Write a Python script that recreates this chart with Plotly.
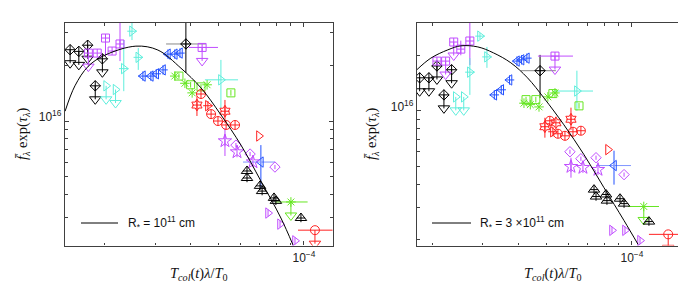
import plotly.graph_objects as go

# ======================= LEFT PANEL (R* = 1e11 cm) =======================
L_curve_x = [1.45e-5, 1.57e-5, 1.75e-5, 2.0e-5, 2.57e-5, 3.07e-5, 3.70e-5, 4.35e-5, 5.11e-5, 6.01e-5, 7.06e-5, 8.30e-5, 9.15e-5]
L_curve_y = [1.13e16, 1.55e16, 1.98e16, 2.27e16, 2.54e16, 2.42e16, 1.93e16, 1.51e16, 1.08e16, 0.741e16, 0.474e16, 0.299e16, 0.214e16]

L_kd_lim_x = [1.51e-5, 1.62e-5, 1.74e-5, 1.96e-5, 1.85e-5]
L_kd_lim_y = [2.43e16, 2.38e16, 2.57e16, 2.17e16, 1.55e16]
L_kd_x = [3.85e-5]; L_kd_y = [2.61e16]
L_kd_xlo = [3.28e-5]; L_kd_xhi = [4.53e-5]; L_kd_ylo = [1.82e16]; L_kd_yhi = [3.6e16]

L_vs_x = [1.88e-5, 2.01e-5, 2.12e-5, 2.26e-5]
L_vs_y = [2.33e16, 2.81e16, 2.39e16, 2.61e16]
L_vs_ylo = [2.33e16, 2.25e16, 2.39e16, 2.11e16]
L_vs_yhi = [2.33e16, 2.85e16, 2.39e16, 3.6e16]
L_vs_lim_x = [1.75e-5, 4.39e-5]; L_vs_lim_y = [2.33e16, 2.50e16]
L_vs_lim_xlo = [1.75e-5, 3.94e-5]; L_vs_lim_xhi = [1.75e-5, 4.99e-5]

L_ct_x = [2.49e-5, 2.62e-5, 2.33e-5]; L_ct_y = [3.06e16, 2.21e16, 1.92e16]
L_ct_ylo = [2.74e16, 1.89e16, 1.45e16]; L_ct_yhi = [3.6e16, 2.48e16, 2.74e16]
L_ct_lim_x = [2.02e-5, 2.18e-5]; L_ct_lim_y = [1.55e16, 1.48e16]
L_ctb_x = [5.11e-5]; L_ctb_y = [1.67e16]
L_ctb_xlo = [4.49e-5]; L_ctb_xhi = [5.87e-5]; L_ctb_ylo = [1.175e16]; L_ctb_yhi = [2.14e16]

L_bt_x = [3.33e-5, 3.52e-5, 3.67e-5, 2.72e-5, 2.90e-5, 3.03e-5, 3.20e-5]
L_bt_y = [2.30e16, 2.30e16, 2.33e16, 1.75e16, 1.75e16, 1.80e16, 1.89e16]
L_btb_x = [7.06e-5]; L_btb_y = [0.60e16]
L_btb_xlo = [6.11e-5]; L_btb_xhi = [7.91e-5]; L_btb_ylo = [0.434e16]; L_btb_yhi = [0.741e16]

L_ga_x = [3.52e-5, 3.82e-5, 4.05e-5, 4.57e-5]; L_ga_y = [1.75e16, 1.60e16, 1.42e16, 1.57e16]
L_gs_x = [3.64e-5, 4.0e-5, 4.35e-5, 5.54e-5]; L_gs_y = [1.75e16, 1.57e16, 1.53e16, 1.42e16]
L_ga_lim_x = [9.0e-5]; L_ga_lim_y = [0.365e16]; L_ga_lim_xlo = [7.91e-5]; L_ga_lim_xhi = [1.03e-4]

L_rh_x = [4.21e-5, 5.28e-5]; L_rh_y = [1.22e16, 1.13e16]
L_rh_ylo = [1.065e16, 0.975e16]; L_rh_yhi = [1.36e16, 1.30e16]
L_rc_x = [4.35e-5, 4.72e-5, 4.99e-5, 5.33e-5, 5.73e-5]; L_rc_y = [1.40e16, 1.09e16, 1.00e16, 0.952e16, 0.952e16]
L_rt_x = [4.60e-5]; L_rt_y = [1.21e16]
L_rto_x = [6.95e-5]; L_rto_y = [0.83e16]
L_rc_lim_x = [1.093e-4]; L_rc_lim_y = [0.257e16]; L_rc_lim_xlo = [9.53e-5]; L_rc_lim_xhi = [1.26e-4]

L_vd_x = [5.77e-5, 6.47e-5, 7.91e-5]; L_vd_y = [0.741e16, 0.663e16, 0.564e16]
L_vp_x = [5.28e-5, 5.82e-5, 6.62e-5]; L_vp_y = [0.78e16, 0.68e16, 0.60e16]
L_vp_ylo = [0.647e16, 0.68e16, 0.60e16]; L_vp_yhi = [0.917e16, 0.68e16, 0.60e16]
L_vt_x = [7.48e-5, 8.24e-5, 9.30e-5]; L_vt_y = [0.318e16, 0.277e16, 0.225e16]
L_kt_x = [6.31e-5, 6.31e-5, 7.01e-5, 7.13e-5, 7.85e-5, 7.97e-5, 9.76e-5]
L_kt_y = [0.537e16, 0.492e16, 0.446e16, 0.418e16, 0.384e16, 0.370e16, 0.299e16]

# ======================= RIGHT PANEL (R* = 3e11 cm) =======================
R_curve_x = [1.76e-5, 1.97e-5, 2.26e-5, 2.51e-5, 2.88e-5, 3.27e-5, 3.76e-5, 4.30e-5, 4.91e-5, 5.77e-5, 6.79e-5, 7.97e-5, 9.38e-5, 1.05e-4]
R_curve_y = [1.67e16, 1.93e16, 2.14e16, 2.25e16, 2.22e16, 2.06e16, 1.82e16, 1.51e16, 1.175e16, 0.84e16, 0.578e16, 0.384e16, 0.254e16, 0.189e16]

R_kd_lim_x = [1.80e-5, 1.94e-5, 2.07e-5, 2.33e-5, 2.19e-5]
R_kd_lim_y = [1.51e16, 1.51e16, 1.75e16, 1.67e16, 1.22e16]
R_kd_x = [4.76e-5]; R_kd_y = [1.65e16]
R_kd_xlo = [4.08e-5]; R_kd_xhi = [5.41e-5]; R_kd_ylo = [1.175e16]; R_kd_yhi = [2.01e16]

R_vs_x = [2.51e-5, 2.70e-5, 2.07e-5]; R_vs_y = [2.16e16, 2.39e16, 1.86e16]
R_vs_ylo = [2.0e16, 1.77e16, 1.86e16]; R_vs_yhi = [2.4e16, 3.2e16, 1.86e16]
R_vs_lim_x = [2.37e-5, 2.22e-5, 5.37e-5]; R_vs_lim_y = [2.36e16, 1.86e16, 1.98e16]
R_vs_lim_xlo = [2.37e-5, 2.22e-5, 4.68e-5]; R_vs_lim_xhi = [2.37e-5, 2.22e-5, 6.21e-5]

R_ct_x = [2.93e-5, 3.10e-5, 2.70e-5]; R_ct_y = [2.54e16, 1.96e16, 1.62e16]
R_ct_ylo = [2.45e16, 1.71e16, 1.22e16]; R_ct_yhi = [2.64e16, 2.22e16, 1.93e16]
R_ct_lim_x = [2.41e-5, 2.57e-5]; R_ct_lim_y = [1.19e16, 1.19e16]
R_ctb_x = [6.41e-5]; R_ctb_y = [1.28e16]
R_ctb_xlo = [5.33e-5]; R_ctb_xhi = [7.30e-5]; R_ctb_ylo = [1.0e16]; R_ctb_yhi = [1.65e16]

R_bt_x = [3.95e-5, 4.10e-5, 4.28e-5, 3.72e-5, 3.29e-5, 3.48e-5]
R_bt_y = [1.86e16, 1.89e16, 1.93e16, 1.47e16, 1.22e16, 1.30e16]
R_btb_x = [8.65e-5]; R_btb_y = [0.505e16]
R_btb_xlo = [7.48e-5]; R_btb_xhi = [9.92e-5]; R_btb_ylo = [0.398e16]; R_btb_yhi = [0.608e16]

R_ga_x = [4.18e-5, 4.40e-5, 4.72e-5, 5.07e-5, 5.37e-5]; R_ga_y = [1.10e16, 1.08e16, 1.05e16, 1.19e16, 1.25e16]
R_gs_x = [4.25e-5, 4.60e-5, 5.28e-5, 6.52e-5]; R_gs_y = [1.15e16, 1.15e16, 1.24e16, 1.064e16]
R_ga_lim_x = [1.10e-4]; R_ga_lim_y = [0.303e16]; R_ga_lim_xlo = [9.68e-5]; R_ga_lim_xhi = [1.244e-4]

R_rh_x = [4.95e-5, 5.41e-5, 6.11e-5]; R_rh_y = [0.82e16, 0.861e16, 0.90e16]
R_rh_ylo = [0.715e16, 0.861e16, 0.789e16]; R_rh_yhi = [0.917e16, 0.861e16, 1.04e16]
R_rc_x = [5.15e-5, 5.50e-5, 5.82e-5, 6.21e-5, 6.62e-5]; R_rc_y = [0.883e16, 0.751e16, 0.732e16, 0.77e16, 0.78e16]
R_rt_x = [5.28e-5]; R_rt_y = [0.77e16]
R_rto_x = [8.24e-5]; R_rto_y = [0.616e16]
R_rc_lim_x = [1.34e-4]; R_rc_lim_y = [0.214e16]; R_rc_lim_xlo = [1.147e-4]; R_rc_lim_xhi = [1.52e-4]

R_vd_x = [6.06e-5, 6.62e-5, 7.48e-5, 9.38e-5]; R_vd_y = [0.60e16, 0.55e16, 0.557e16, 0.451e16]
R_vp_x = [6.11e-5, 6.73e-5, 7.60e-5]; R_vp_y = [0.498e16, 0.492e16, 0.48e16]
R_vp_ylo = [0.434e16, 0.492e16, 0.48e16]; R_vp_yhi = [0.557e16, 0.492e16, 0.48e16]
R_vt_x = [8.51e-5, 9.45e-5, 1.067e-4]; R_vt_y = [0.225e16, 0.225e16, 0.198e16]
R_kt_x = [7.36e-5, 7.48e-5, 8.11e-5, 8.17e-5, 9.08e-5, 9.38e-5, 1.147e-4]
R_kt_y = [0.374e16, 0.343e16, 0.352e16, 0.326e16, 0.334e16, 0.314e16, 0.251e16]

LEG_L = "R<sub>*</sub> = 10<sup>11</sup> cm"
LEG_R = "R<sub>*</sub> = 3 \u00d710<sup>11</sup> cm"
X_TICKS = [1e-4]; X_TICKTEXT = ["10<sup>\u22124</sup>"]
Y_TICKS = [1e16]; Y_TICKTEXT = ["10<sup>16</sup>"]
X_MINOR = [k * 1e-5 for k in range(2, 10)] + [2e-4]
Y_MINOR = [k * 1e15 for k in range(2, 10)] + [2e16, 3e16]

# ---------------- styles ----------------
BLACK = "#000000"; VIOLET = "#c04cff"; CYAN = "#5eeedc"; BLUE = "#2250ff"
GREEN = "#66e622"; RED = "#ff2222"; GRAY = "#888888"; AX = "#404040"
ARROW_DEC = 0.073  # length of upper-limit arrows (decades)

fig = go.Figure()


def ax_ids(p):
    return ("x", "y") if p == 1 else ("x2", "y2")


def mk(p, x, y, sym, color, size=8, cross=None, csize=None):
    xa, ya = ax_ids(p)
    fig.add_trace(go.Scatter(x=x, y=y, mode="markers", xaxis=xa, yaxis=ya, hoverinfo="skip",
                             marker=dict(symbol=sym, size=size, color=color,
                                         line=dict(color=color, width=1))))
    if cross:
        fig.add_trace(go.Scatter(x=x, y=y, mode="markers", xaxis=xa, yaxis=ya, hoverinfo="skip",
                                 marker=dict(symbol=cross, size=csize or size * 0.75, color=color,
                                             line=dict(color=color, width=1))))


def bars(p, x, y, color, xlo=None, xhi=None, ylo=None, yhi=None, xcolor=None):
    xa, ya = ax_ids(p)
    kw = {}
    if xlo is not None:
        kw["error_x"] = dict(type="data", symmetric=False,
                             array=[h - v for h, v in zip(xhi, x)],
                             arrayminus=[v - l for l, v in zip(xlo, x)],
                             width=0, thickness=1, color=xcolor or color)
    if ylo is not None:
        kw["error_y"] = dict(type="data", symmetric=False,
                             array=[h - v for h, v in zip(yhi, y)],
                             arrayminus=[v - l for l, v in zip(ylo, y)],
                             width=0, thickness=1, color=color)
    fig.add_trace(go.Scatter(x=x, y=y, mode="markers", xaxis=xa, yaxis=ya, hoverinfo="skip",
                             marker=dict(size=0.1, color=color, opacity=0), **kw))


def limit(p, x, y, sym, color, size=8, cross=None):
    xa, ya = ax_ids(p)
    f = 10 ** (-ARROW_DEC)
    lx, ly = [], []
    for xi, yi in zip(x, y):
        lx += [xi, xi, None]
        ly += [yi, yi * f, None]
    fig.add_trace(go.Scatter(x=lx, y=ly, mode="lines", xaxis=xa, yaxis=ya, hoverinfo="skip",
                             line=dict(color=color, width=1)))
    fig.add_trace(go.Scatter(x=x, y=[yi * f for yi in y], mode="markers", xaxis=xa, yaxis=ya,
                             hoverinfo="skip",
                             marker=dict(symbol="triangle-down-open", size=10, color=color,
                                         line=dict(color=color, width=1))))
    mk(p, x, y, sym, color, size, cross)


def panel(p, D):
    bars(p, D["kd_x"], D["kd_y"], BLACK, D["kd_xlo"], D["kd_xhi"], D["kd_ylo"], D["kd_yhi"], xcolor=GRAY)
    bars(p, D["vs_x"], D["vs_y"], VIOLET, ylo=D["vs_ylo"], yhi=D["vs_yhi"])
    bars(p, D["vs_lim_x"], D["vs_lim_y"], VIOLET, D["vs_lim_xlo"], D["vs_lim_xhi"])
    bars(p, D["ct_x"], D["ct_y"], CYAN, ylo=D["ct_ylo"], yhi=D["ct_yhi"])
    bars(p, D["ctb_x"], D["ctb_y"], CYAN, D["ctb_xlo"], D["ctb_xhi"], D["ctb_ylo"], D["ctb_yhi"])
    bars(p, D["btb_x"], D["btb_y"], BLUE, D["btb_xlo"], D["btb_xhi"], D["btb_ylo"], D["btb_yhi"], xcolor="#7f95ff")
    bars(p, D["ga_lim_x"], D["ga_lim_y"], GREEN, D["ga_lim_xlo"], D["ga_lim_xhi"])
    bars(p, D["rh_x"], D["rh_y"], RED, ylo=D["rh_ylo"], yhi=D["rh_yhi"])
    bars(p, D["rc_lim_x"], D["rc_lim_y"], RED, D["rc_lim_xlo"], D["rc_lim_xhi"])
    bars(p, D["vp_x"], D["vp_y"], VIOLET, ylo=D["vp_ylo"], yhi=D["vp_yhi"])

    limit(p, D["kd_lim_x"], D["kd_lim_y"], "diamond-cross-open", BLACK, 8)
    mk(p, D["kd_x"], D["kd_y"], "diamond-cross-open", BLACK, 8)
    mk(p, D["vs_x"], D["vs_y"], "square-cross-open", VIOLET, 8)
    limit(p, D["vs_lim_x"], D["vs_lim_y"], "square-cross-open", VIOLET, 8)
    mk(p, D["ct_x"], D["ct_y"], "triangle-right-open", CYAN, 9, "line-ew-open")
    limit(p, D["ct_lim_x"], D["ct_lim_y"], "triangle-right-open", CYAN, 9)
    mk(p, D["ctb_x"], D["ctb_y"], "triangle-right-open", CYAN, 9)
    mk(p, D["bt_x"], D["bt_y"], "triangle-left-open", BLUE, 9, "cross-thin-open")
    mk(p, D["btb_x"], D["btb_y"], "triangle-left-open", BLUE, 9)
    mk(p, D["ga_x"], D["ga_y"], "asterisk-open", GREEN, 8)
    mk(p, D["gs_x"], D["gs_y"], "square-open", GREEN, 8, "line-ns-open", 4)
    limit(p, D["ga_lim_x"], D["ga_lim_y"], "asterisk-open", GREEN, 8)
    mk(p, D["rh_x"], D["rh_y"], "hexagram-open", RED, 9, "cross-thin-open")
    mk(p, D["rc_x"], D["rc_y"], "circle-cross-open", RED, 9)
    mk(p, D["rt_x"], D["rt_y"], "triangle-right-open", RED, 9, "cross-thin-open")
    mk(p, D["rto_x"], D["rto_y"], "triangle-right-open", RED, 9)
    limit(p, D["rc_lim_x"], D["rc_lim_y"], "circle-open", RED, 9)
    mk(p, D["vd_x"], D["vd_y"], "diamond-open", VIOLET, 8, "line-ns-open", 3)
    mk(p, D["vp_x"], D["vp_y"], "star-open", VIOLET, 10, "line-ns-open")
    mk(p, D["vt_x"], D["vt_y"], "triangle-right-open", VIOLET, 9, "line-ns-open", 5)
    mk(p, D["kt_x"], D["kt_y"], "triangle-up-open", BLACK, 10, "cross-thin-open", 6)

    xa, ya = ax_ids(p)
    fig.add_trace(go.Scatter(x=D["curve_x"], y=D["curve_y"], mode="lines", xaxis=xa, yaxis=ya,
                             line=dict(color=BLACK, width=1, shape="spline", smoothing=1.0),
                             hoverinfo="skip"))


def collect(prefix):
    g = globals()
    return {k[len(prefix):]: v for k, v in g.items() if k.startswith(prefix)}


panel(1, collect("L_"))
panel(2, collect("R_"))

W, H = 686, 285


def xaxis(rng, left, right, anchor):
    return dict(type="log", range=rng, domain=[left / W, right / W], anchor=anchor,
                showgrid=False, zeroline=False, showline=True, linecolor=AX, linewidth=1.3,
                mirror="ticks", ticks="inside", ticklen=4, tickcolor=AX, tickwidth=1,
                tickmode="array", tickvals=X_TICKS, ticktext=X_TICKTEXT, ticklabelstandoff=1,
                tickfont=dict(family="Liberation Sans, Arial", size=12, color="#222"),
                minor=dict(tickvals=X_MINOR, ticks="inside", ticklen=2.5, tickcolor=AX))


def yaxis(rng, anchor):
    return dict(type="log", range=rng, domain=[1 - 237.5 / H, 1 - 15 / H], anchor=anchor,
                showgrid=False, zeroline=False, showline=True, linecolor=AX, linewidth=1.3,
                mirror="ticks", ticks="inside", ticklen=4, tickcolor=AX, tickwidth=1,
                tickmode="array", tickvals=Y_TICKS, ticktext=Y_TICKTEXT, ticklabelshift=-4,
                tickfont=dict(family="Liberation Sans, Arial", size=12, color="#222"),
                minor=dict(tickvals=Y_MINOR, ticks="inside", ticklen=2.5, tickcolor=AX))


YT = "<i>f\u0304</i><sub><i>\u03bb</i></sub> exp(<i>\u03c4</i><sub><i>\u03bb</i></sub>)"
XT = "<i>T</i><sub><i>col</i></sub>(<i>t</i>)<i>\u03bb</i>/<i>T</i><sub>0</sub>"
SERIF = dict(family="Liberation Serif, Times New Roman, serif", size=14.5, color="#111")
SANS = dict(family="Liberation Sans, Arial", size=12, color="#111")

ann = []
for xc, yc, txt, ang in [(15, 126, YT, -90), (364, 126, YT, -90), (191, 266, XT, 0), (545, 266, XT, 0)]:
    ann.append(dict(x=xc / W, y=1 - yc / H, xref="paper", yref="paper", text=txt, showarrow=False,
                    textangle=ang, font=SERIF, xanchor="center", yanchor="middle"))
for xs, txt in [(118, LEG_L), (470, LEG_R)]:
    ann.append(dict(x=xs / W, y=1 - 215 / H, xref="paper", yref="paper", text=txt, showarrow=False,
                    font=SANS, xanchor="left", yanchor="middle"))
shapes = []
for x0, x1 in [(73, 110), (424, 463)]:
    shapes.append(dict(type="line", xref="paper", yref="paper", x0=x0 / W, x1=x1 / W,
                       y0=1 - 215 / H, y1=1 - 215 / H, line=dict(color=BLACK, width=1)))

fig.update_layout(
    width=W, height=H, margin=dict(l=0, r=0, t=0, b=0),
    paper_bgcolor="white", plot_bgcolor="white", showlegend=False,
    xaxis=xaxis([-4.839, -3.898], 57, 325, "y"),
    yaxis=yaxis([15.327, 16.530], "x"),
    xaxis2=xaxis([-4.754, -3.814], 409, 677, "y2"),
    yaxis2=yaxis([15.270, 16.476], "x2"),
    annotations=ann, shapes=shapes,
)

fig.write_html("out.html")
